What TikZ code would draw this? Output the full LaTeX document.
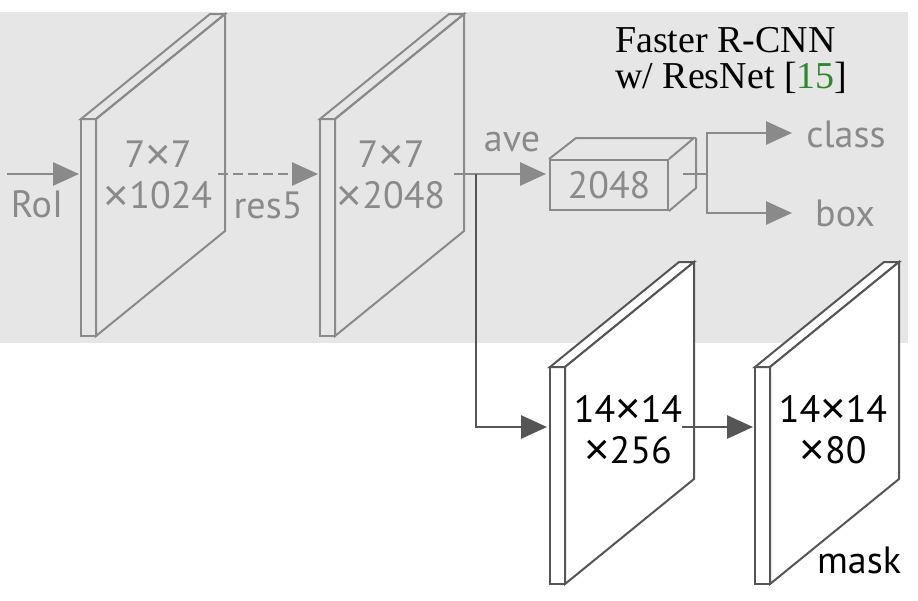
\documentclass[tikz,border=0pt]{standalone}
\usepackage{fontspec}
\usetikzlibrary{arrows.meta}
\newfontfamily\labelfont{PT Sans}
\newfontfamily\crossfont{Liberation Sans}
\newfontfamily\titlefont{Liberation Serif}
\newcommand{\by}{\raisebox{-0.05em}{\scalebox{1.15}{\crossfont ×}}}
\definecolor{panel}{HTML}{E6E6E6}
\definecolor{faded}{HTML}{8A8A8A}
\definecolor{strong}{HTML}{555555}
\definecolor{citegreen}{HTML}{2A8A2A}

\begin{document}
\begin{tikzpicture}[
  x=1pt, y=-1pt,
  line join=miter,
  every node/.style={font=\labelfont\fontsize{38}{41}\selectfont, inner sep=0pt},
  slab/.style={draw=faded, line width=2pt},
  maskslab/.style={draw=strong, fill=white, line width=2pt},
  flow/.style={draw=faded, line width=2.8pt, >={Triangle[length=26pt, width=23pt]}},
  maskflow/.style={flow, draw=strong},
  label/.style={text=faded},
]
\useasboundingbox (0,0) rectangle (918,600);
\fill[panel] (0,12) rectangle (908,343);
% box head, drawn see-through over the panel
\draw[slab] (81,119) rectangle ++(15,217);
\draw[slab] (81,119) -- ++(129,-105) -- ++(15,0) -- ++(-129,105) -- cycle;
\draw[slab] (96,119) -- ++(129,-105) -- ++(0,217) -- ++(-129,105) -- cycle;
\draw[slab] (320,119) rectangle ++(15,217);
\draw[slab] (320,119) -- ++(129,-105) -- ++(15,0) -- ++(-129,105) -- cycle;
\draw[slab] (335,119) -- ++(129,-105) -- ++(0,217) -- ++(-129,105) -- cycle;
\node[label, draw=faded, line width=2pt, minimum width=118pt, minimum height=50pt] (fc) at (609,185) {2048};
\draw[slab] (fc.north west) -- ++(27,-21) -- ++(118,0) -- (fc.north east);
\draw[slab] (fc.north east) ++(27,-21) -- ++(0,50) -- (fc.south east);
% mask head
\draw[maskslab] (550,367) rectangle ++(15,217);
\draw[maskslab] (550,367) -- ++(129,-105) -- ++(15,0) -- ++(-129,105) -- cycle;
\draw[maskslab] (565,367) -- ++(129,-105) -- ++(0,217) -- ++(-129,105) -- cycle;
\draw[maskslab] (755,367) rectangle ++(15,217);
\draw[maskslab] (755,367) -- ++(129,-105) -- ++(15,0) -- ++(-129,105) -- cycle;
\draw[maskslab] (770,367) -- ++(129,-105) -- ++(0,217) -- ++(-129,105) -- cycle;
% connectors
\coordinate (roi) at (7,174);
\coordinate (s1in) at (79,174);
\coordinate (s1out) at (218,174);
\coordinate (s2in) at (318,174);
\coordinate (s2out) at (454,174);
\coordinate (fork) at (476,174);
\coordinate (fcin) at (546,174);
\coordinate (fcout) at (683,174);
\coordinate (split) at (707,174);
\coordinate (clstip) at (792,133);
\coordinate (boxtip) at (792,213);
\coordinate (m1in) at (547,427);
\coordinate (m1out) at (682,427);
\coordinate (m2in) at (753,427);
\draw[flow, ->] (roi) -- (s1in);
\draw[flow, ->, dash pattern=on 10pt off 5pt] (s1out) -- (s2in);
\draw[flow] (s2out) -- (fork);
\draw[flow, ->] (fork) -- (fcin);
\draw[flow] (fcout) -- (split);
\draw[flow, ->] (split) |- (clstip);
\draw[flow, ->] (split) |- (boxtip);
\draw[maskflow, ->] (fork) |- (m1in);
\draw[maskflow, ->] (m1out) -- (m2in);
% labels
\node[label] (roilbl) at (37,204) {RoI};
\node[label] (reslbl) at (268,205) {res5};
\node[label] (avelbl) at (512,142) {ave};
\node[label] (clslbl) at (846,134) {class};
\node[label] (boxlbl) at (845,213) {box};
\node[label, align=center] (d1) at (158,176) {7\by7\\\by1024};
\node[label, align=center] (d2) at (391,176) {7\by7\\\by2048};
\node[align=center] (d3) at (628,430) {14\by14\\\by256};
\node[align=center] (d4) at (833,430) {14\by14\\\by80};
\node (masklbl) at (859,560) {mask};
\node[anchor=north west, align=left, font=\titlefont\fontsize{38}{36}\selectfont] (title) at (615,27) {Faster R-CNN\\w/ ResNet [\textcolor{citegreen}{15}]};
\end{tikzpicture}
\end{document}
